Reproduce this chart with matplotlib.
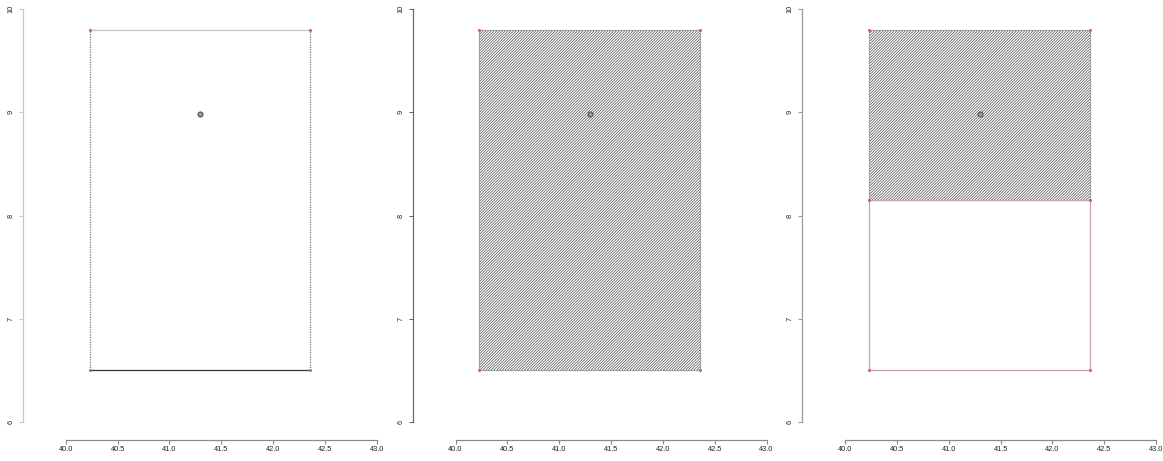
import numpy as np
import matplotlib
matplotlib.use("Agg")
import matplotlib.pyplot as plt
from matplotlib.patches import Rectangle

plt.rcParams['font.family'] = ['Liberation Sans', 'DejaVu Sans']
plt.rcParams['hatch.color'] = '#505050'
plt.rcParams['hatch.linewidth'] = 0.5

# Axis ranges and ticks
x_ticks = [40.0, 40.5, 41.0, 41.5, 42.0, 42.5, 43.0]
y_ticks = [6, 7, 8, 9, 10]

# Rectangle corners, centre point and the split level of the last panel
rect_x = [40.23, 42.36]
rect_y = [6.5, 9.8]
center = (41.3, 8.98)
split_y = 8.15

W, H = 1163, 461
fig = plt.figure(figsize=(W / 100, H / 100), dpi=100)

PX = 72 / 100  # points per pixel


def make_axes(left_px, axis_color):
    ax = fig.add_axes([left_px / W, (H - 422) / H, 311 / W, 413 / H])
    ax.set_xlim(x_ticks[0], x_ticks[-1])
    ax.set_ylim(y_ticks[0], y_ticks[-1])
    for s in ('top', 'right'):
        ax.spines[s].set_visible(False)
    ax.spines['left'].set_position(('outward', 43 * PX))
    ax.spines['bottom'].set_position(('outward', 18 * PX))
    ax.spines['left'].set_bounds(y_ticks[0], y_ticks[-1])
    ax.spines['bottom'].set_bounds(x_ticks[0], x_ticks[-1])
    ax.spines['left'].set_color(axis_color)
    ax.spines['bottom'].set_color('#8a8a8a')
    for s in ('left', 'bottom'):
        ax.spines[s].set_linewidth(0.9)
    ax.set_xticks(x_ticks)
    ax.set_xticklabels([f"{v:.1f}" for v in x_ticks])
    ax.set_yticks(y_ticks)
    ax.set_yticklabels([str(v) for v in y_ticks], rotation=90, va='center')
    ax.tick_params(axis='both', length=4 * PX, width=0.8,
                   labelsize=5.3, labelcolor='#222222')
    ax.tick_params(axis='x', pad=1.2, color='#8a8a8a')
    ax.tick_params(axis='y', pad=3, color=axis_color)
    ax.patch.set_alpha(0)
    return ax


def corners(ax, ys):
    xs = [rect_x[0], rect_x[1]]
    px = [x for y in ys for x in xs]
    py = [y for y in ys for _ in xs]
    ax.scatter(px, py, s=5, color='#e05a6e', zorder=5, linewidths=0)


def centre(ax):
    ax.plot([center[0]], [center[1]], marker='o', markersize=3.6,
            markerfacecolor='#9a9a9a', markeredgecolor='#555555',
            markeredgewidth=0.8, zorder=6)


x0, x1 = rect_x
y0, y1 = rect_y
HATCH = '/' * 12

# Panel 1: outline only
ax1 = make_axes(65.7, '#c8c8c8')
ax1.plot([x0, x0], [y0, y1], color='#7a7a7a', lw=0.9, ls=(0, (1, 1)))
ax1.plot([x1, x1], [y0, y1], color='#7a7a7a', lw=0.9, ls=(0, (1, 1)))
ax1.plot([x0, x1], [y1, y1], color='#c4c4c4', lw=0.9)
ax1.plot([x0, x1], [y0, y0], color='#333333', lw=0.9)
corners(ax1, [y0, y1])
centre(ax1)

# Panel 2: fully hatched rectangle
ax2 = make_axes(455.5, '#6a6a6a')
ax2.add_patch(Rectangle((x0, y0), x1 - x0, y1 - y0, facecolor='white',
                        edgecolor='#505050', hatch=HATCH, linewidth=0, zorder=2))
ax2.add_patch(Rectangle((x0, y0), x1 - x0, y1 - y0, fill=False,
                        edgecolor='#a0a0a0', linewidth=0.8, zorder=3))
corners(ax2, [y0, y1])
centre(ax2)

# Panel 3: upper part hatched, lower part outlined
ax3 = make_axes(845.0, '#9a9a9a')
ax3.add_patch(Rectangle((x0, split_y), x1 - x0, y1 - split_y, facecolor='white',
                        edgecolor='#505050', hatch=HATCH, linewidth=0, zorder=2))
ax3.add_patch(Rectangle((x0, split_y), x1 - x0, y1 - split_y, fill=False,
                        edgecolor='#a0a0a0', linewidth=0.8, zorder=3))
ax3.add_patch(Rectangle((x0, y0), x1 - x0, split_y - y0, fill=False,
                        edgecolor='#c9a3ab', linewidth=0.9, zorder=3))
corners(ax3, [y0, split_y, y1])
centre(ax3)

fig.savefig("out.png", dpi=100)
